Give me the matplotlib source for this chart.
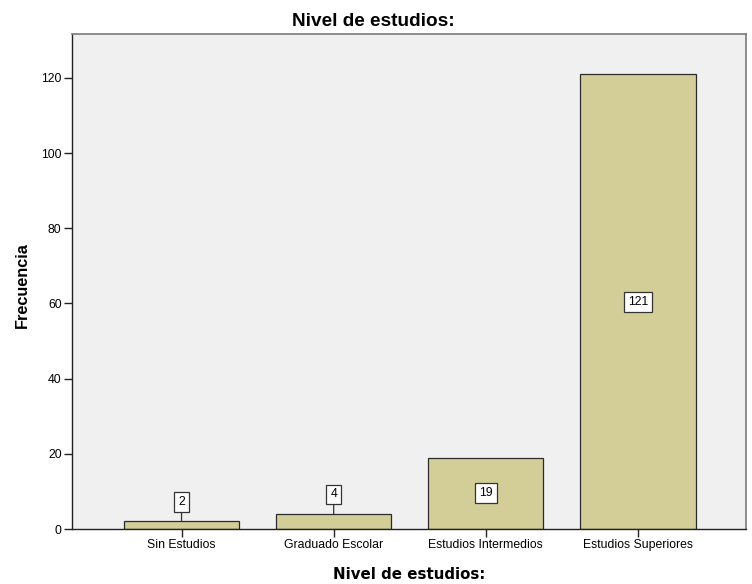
import matplotlib
matplotlib.use("Agg")
import matplotlib.pyplot as plt

# Frequency of each education level
categories = ["Sin Estudios", "Graduado Escolar", "Estudios Intermedios", "Estudios Superiores"]
counts = [2, 4, 19, 121]
y_ticks = [0, 20, 40, 60, 80, 100, 120]

BAR_COLOR = "#D3CE98"
BG_COLOR = "#F0F0F0"
SANS = ["Liberation Sans", "DejaVu Sans"]

fig = plt.figure(figsize=(7.52, 5.84), dpi=100)
ax = fig.add_axes([72 / 752, 55 / 584, (746 - 72) / 752, (529 - 34) / 584])
ax.set_facecolor(BG_COLOR)

x = list(range(len(categories)))
ax.bar(x, counts, width=0.757, color=BAR_COLOR, edgecolor="#2b2b2b", linewidth=0.9, zorder=2)

ax.set_xlim(-0.72, 3.71)
ax.set_ylim(0, 131.7)
ax.set_yticks(y_ticks)
ax.set_yticklabels([str(t) for t in y_ticks], family=SANS, fontsize=8.8)
ax.set_xticks(x)
ax.set_xticklabels(categories, family=SANS, fontsize=8.8)
ax.tick_params(axis="both", length=6, width=1.0, color="#222222", pad=1.5)

for side in ("left", "bottom"):
    ax.spines[side].set_color("#222222")
    ax.spines[side].set_linewidth(1.0)
for side in ("top", "right"):
    ax.spines[side].set_color("#7a7a7a")
    ax.spines[side].set_linewidth(1.2)

box = dict(boxstyle="square,pad=0.32", facecolor="white", edgecolor="#333333", linewidth=0.9)

# Value labels: inside tall bars, above short ones with a leader line
for xi, v in zip(x, counts):
    if v >= 10:
        ax.text(xi, v / 2, str(v), ha="center", va="center", family=SANS,
                fontsize=8.8, bbox=box, zorder=4)
    else:
        ax.annotate(str(v), xy=(xi, v), xytext=(xi, v + 5.2), ha="center", va="center",
                    family=SANS, fontsize=8.8, bbox=box, zorder=4,
                    arrowprops=dict(arrowstyle="-", color="#333333", linewidth=0.9,
                                    shrinkA=0, shrinkB=0))

fig.text(373 / 752, 1 - 25.7 / 584, "Nivel de estudios:", ha="center", va="baseline",
         family=SANS, fontweight="bold", fontsize=13.7)
fig.text(409 / 752, 1 - 579.3 / 584, "Nivel de estudios:", ha="center", va="baseline",
         family="DejaVu Sans", fontweight="bold", fontsize=10.8)
fig.text(30 / 752, 1 - 284.8 / 584, "Frecuencia", ha="right", va="center", rotation=90,
         family=SANS, fontweight="bold", fontsize=11.7)

fig.savefig("out.png", dpi=100, facecolor="white")
